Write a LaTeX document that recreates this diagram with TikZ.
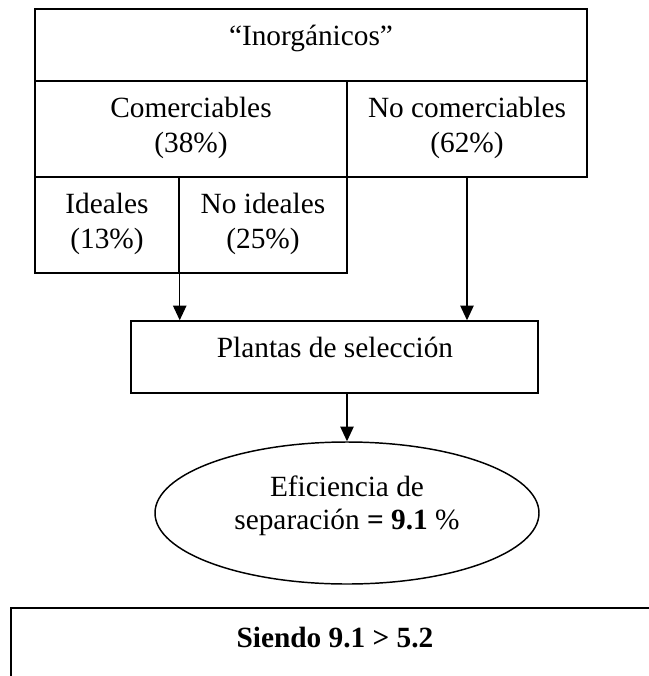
\documentclass[tikz,border=0pt]{standalone}
\usepackage{fontspec}
\setmainfont{Liberation Serif}
\usetikzlibrary{arrows.meta,fit,shapes.geometric}
\begin{document}
\begin{tikzpicture}[x=0.75pt,y=-0.75pt,
  cell/.style={draw,line width=1.1pt,inner sep=0pt,rectangle},
  txt/.style={inner sep=0pt,anchor=base,font=\fontsize{22}{26}\selectfont},
  arr/.style={line width=1.1pt,-{Triangle[length=11pt,width=10pt]}}]
\useasboundingbox (0,0) rectangle (649,676);
% cells
\node[cell,fit={(35,9) (587,81)}] (top) {};
\node[cell,fit={(35,81) (347,177)}] (com) {};
\node[cell,fit={(347,81) (587,177)}] (nocom) {};
\node[cell,fit={(35,177) (179,273)}] (ideal) {};
\node[cell,fit={(179,177) (347,273)}] (noideal) {};
\node[cell,fit={(131,321) (538,393)}] (plantas) {};
\node[draw,line width=1.1pt,ellipse,inner sep=0pt,minimum width=288pt,minimum height=106.5pt] (ell) at (347,513) {};
% texts
\node[txt] (tInorg) at (311,45) {“Inorgánicos”};
\node[txt] (tCom1) at (191,117) {Comerciables};
\node[txt] (tCom2) at (191,152) {(38\%)};
\node[txt] (tNoCom1) at (467,117) {No comerciables};
\node[txt] (tNoCom2) at (467,152) {(62\%)};
\node[txt] (tId1) at (107,213) {Ideales};
\node[txt] (tId2) at (107,248) {(13\%)};
\node[txt] (tNoId1) at (263,213) {No ideales};
\node[txt] (tNoId2) at (263,248) {(25\%)};
\node[txt] (tPl) at (335,357) {Plantas de selección};
\node[txt] (tEf1) at (347,496) {Eficiencia de};
\node[txt] (tEf2) at (347,529) {separación \textbf{= 9.1} \%};
\node[txt,font=\fontsize{22}{26}\selectfont\bfseries] (siendo) at (335,647) {Siendo 9.1 > 5.2};
% arrows
\draw[arr] (ideal.south east) -- (ideal.south east |- plantas.north);
\draw[arr] (nocom.south) -- (nocom.south |- plantas.north);
\draw[arr] (ell.north |- plantas.south) -- (ell.north);
% bottom frame (cut by the page edge)
\draw[line width=1.2pt] (11,676) -- (11,608) -- (649,608);
\end{tikzpicture}
\end{document}
